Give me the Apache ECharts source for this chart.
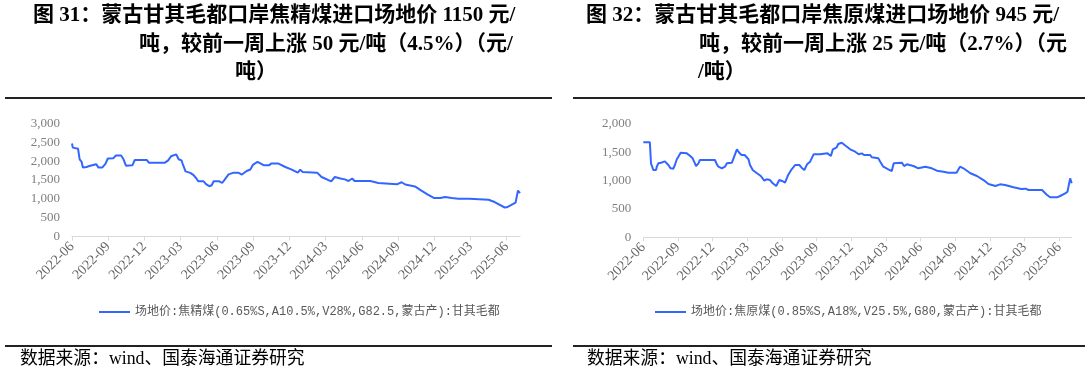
<!DOCTYPE html>
<html><head><meta charset="utf-8">
<script src="https://cdn.jsdelivr.net/npm/echarts@6/dist/echarts.min.js"></script>
<style>html,body{margin:0;padding:0;background:#fff}#c{width:1089px;height:375px}</style>
</head><body><div id="c"></div>
<script>
// ---------- data ----------
const leftDates = ['2022-06-01','2022-06-03','2022-06-16','2022-06-20','2022-06-25','2022-06-28','2022-07-07','2022-07-14','2022-07-17','2022-08-01','2022-08-07','2022-08-16','2022-08-24','2022-08-30','2022-09-14','2022-09-20','2022-10-03','2022-10-09','2022-10-15','2022-11-01','2022-11-07','2022-12-07','2022-12-12','2023-01-22','2023-01-30','2023-02-07','2023-02-11','2023-02-20','2023-02-26','2023-03-03','2023-03-06','2023-03-13','2023-03-25','2023-04-03','2023-04-10','2023-04-15','2023-04-28','2023-05-04','2023-05-12','2023-05-18','2023-05-23','2023-06-07','2023-06-14','2023-06-19','2023-06-30','2023-07-13','2023-07-25','2023-08-03','2023-08-15','2023-08-24','2023-09-01','2023-09-12','2023-09-16','2023-09-28','2023-10-10','2023-10-16','2023-11-04','2023-11-21','2023-12-07','2023-12-22','2023-12-28','2024-01-04','2024-02-10','2024-02-21','2024-03-15','2024-03-24','2024-04-08','2024-04-19','2024-04-28','2024-05-07','2024-05-13','2024-06-22','2024-07-12','2024-08-28','2024-09-10','2024-09-19','2024-10-13','2024-10-28','2024-11-14','2024-12-01','2024-12-16','2024-12-28','2025-01-14','2025-02-01','2025-02-28','2025-04-16','2025-05-01','2025-05-26','2025-06-01','2025-06-23','2025-06-29','2025-07-04'];
const leftValues = [2470,2360,2330,2050,1980,1830,1845,1870,1920,1920,1830,1830,1930,2070,2080,2150,2150,2050,1880,1890,2030,2030,1960,1960,2020,2130,2180,2180,2050,2020,1930,1730,1690,1630,1540,1465,1465,1390,1335,1360,1465,1465,1420,1490,1650,1695,1690,1645,1740,1780,1910,1980,1960,1890,1890,1935,1935,1845,1775,1695,1775,1715,1695,1580,1465,1580,1540,1517,1473,1540,1475,1475,1420,1385,1440,1380,1330,1225,1120,1020,1020,1046,1020,1003,1003,977,915,770,775,900,1220,1150];

const rightDates = ['2022-06-01','2022-06-18','2022-06-21','2022-06-23','2022-06-27','2022-07-04','2022-07-06','2022-07-10','2022-07-17','2022-07-21','2022-07-27','2022-08-06','2022-08-12','2022-08-19','2022-08-23','2022-08-28','2022-09-02','2022-09-08','2022-09-24','2022-10-02','2022-10-09','2022-10-15','2022-10-18','2022-10-24','2022-10-28','2022-11-07','2022-11-11','2022-12-07','2022-12-12','2022-12-16','2022-12-20','2022-12-25','2023-01-03','2023-01-08','2023-01-21','2023-01-25','2023-02-04','2023-02-10','2023-02-16','2023-02-24','2023-03-04','2023-03-08','2023-03-15','2023-03-26','2023-04-06','2023-04-15','2023-04-21','2023-04-30','2023-05-07','2023-05-16','2023-05-24','2023-05-31','2023-06-09','2023-06-17','2023-06-26','2023-07-05','2023-07-16','2023-07-22','2023-07-29','2023-08-06','2023-08-14','2023-08-23','2023-09-10','2023-09-14','2023-09-29','2023-10-08','2023-10-13','2023-10-23','2023-10-27','2023-11-06','2023-11-17','2023-11-28','2023-12-11','2023-12-20','2023-12-28','2024-01-04','2024-01-20','2024-01-24','2024-02-11','2024-02-16','2024-02-24','2024-03-07','2024-03-16','2024-03-21','2024-04-12','2024-04-18','2024-04-25','2024-05-12','2024-05-25','2024-06-13','2024-06-30','2024-07-13','2024-07-30','2024-08-13','2024-09-04','2024-09-13','2024-09-22','2024-10-10','2024-10-27','2024-11-14','2024-11-27','2024-12-15','2024-12-27','2025-01-10','2025-02-02','2025-02-22','2025-03-03','2025-03-11','2025-04-16','2025-04-29','2025-05-07','2025-05-25','2025-06-03','2025-06-16','2025-06-22','2025-06-29','2025-07-03'];
const rightValues = [1677,1677,1306,1294,1188,1188,1246,1306,1317,1352,1340,1276,1218,1212,1276,1377,1423,1493,1482,1440,1394,1306,1258,1306,1364,1364,1377,1364,1288,1246,1258,1218,1246,1306,1317,1352,1553,1493,1452,1452,1377,1276,1188,1130,1082,1000,1023,1011,953,906,1011,994,964,1100,1200,1276,1276,1229,1188,1288,1335,1465,1465,1500,1482,1435,1553,1588,1647,1670,1611,1553,1511,1465,1482,1452,1452,1412,1394,1335,1246,1200,1170,1306,1317,1258,1288,1258,1218,1246,1218,1176,1158,1140,1140,1246,1218,1130,1082,1011,941,906,935,923,882,853,859,835,835,747,706,706,729,776,805,1041,953];

const xTickLabels = ['2022-06','2022-09','2022-12','2023-03','2023-06','2023-09','2023-12','2024-03','2024-06','2024-09','2024-12','2025-03','2025-06'];
const leftYTicks = [0,500,1000,1500,2000,2500,3000];
const rightYTicks = [0,500,1000,1500,2000];

const leftSeriesName = '场地价:焦精煤(0.65%S,A10.5%,V28%,G82.5,蒙古产):甘其毛都';
const rightSeriesName = '场地价:焦原煤(0.85%S,A18%,V25.5%,G80,蒙古产):甘其毛都';
const leftTitleLines = ['图 31：蒙古甘其毛都口岸焦精煤进口场地价 1150 元/','吨，较前一周上涨 50 元/吨（4.5%）（元/','吨）'];
const rightTitleLines = ['图 32：蒙古甘其毛都口岸焦原煤进口场地价 945 元/','吨，较前一周上涨 25 元/吨（2.7%）（元','/吨）'];
const sourceText = '数据来源：wind、国泰海通证券研究';

// ---------- helpers ----------
function toMonth(s){const p=s.split('-').map(Number);return (p[0]-2022)*12+(p[1]-6)+((p[2]||1)-1)/30;}
const tickMonths = xTickLabels.map(l=>toMonth(l));
function labelFor(v){for(let i=0;i<tickMonths.length;i++){if(Math.abs(tickMonths[i]-v)<1e-6)return xTickLabels[i];}return '';}
const leftData = leftDates.map((d,i)=>[toMonth(d),leftValues[i]]);
const rightData = rightDates.map((d,i)=>[toMonth(d),rightValues[i]]);

const serif = "'Liberation Serif','Noto Sans CJK SC',serif";
const blue = '#3366FF';
const axisGray = '#D9D9D9';
const labelGray = '#666666';

function xAxisCfg(grid,maxV){return {type:'value',gridIndex:grid,min:0,max:maxV,
  axisLine:{show:true,lineStyle:{color:axisGray,width:1}},
  axisTick:{show:true,customValues:tickMonths,length:4,lineStyle:{color:axisGray}},
  axisLabel:{customValues:tickMonths,rotate:45,margin:8,fontFamily:serif,fontSize:14,color:labelGray,formatter:labelFor},
  splitLine:{show:false}};}
function yAxisCfg(grid,ticks){return {type:'value',gridIndex:grid,min:ticks[0],max:ticks[ticks.length-1],interval:ticks[1]-ticks[0],
  axisLine:{show:false},axisTick:{show:false},splitLine:{show:false},
  axisLabel:{margin:12,fontFamily:serif,fontSize:13,color:'#7F7F7F',formatter:v=>v.toLocaleString('en-US')}};}

const chart = echarts.init(document.getElementById('c'),null,{renderer:'canvas'});
const titleFont = {fontFamily:serif,fontWeight:'bold',fontSize:21,fill:'#000'};
function tText(txt,x,y){return {type:'text',style:Object.assign({text:txt,x:x,y:y,verticalAlign:'middle',align:'left'},titleFont)};}
function rule(x1,x2,y){return {type:'line',shape:{x1:x1,y1:y,x2:x2,y2:y},style:{stroke:'#222',lineWidth:2}};}
function src(x){return {type:'text',style:{text:sourceText,x:x,y:359,verticalAlign:'middle',fontFamily:serif,fontSize:17.8,fill:'#000'}};}
const legendText = {fontFamily:"'Liberation Mono','Noto Sans CJK SC',monospace",fontSize:12,color:'#595959'};

chart.setOption({
  animation:false,
  backgroundColor:'#fff',
  grid:[{left:72,top:123.5,width:448,height:113,containLabel:false},
        {left:643.3,top:124,width:428.4,height:113.3,containLabel:false}],
  xAxis:[xAxisCfg(0,leftData[leftData.length-1][0]),xAxisCfg(1,rightData[rightData.length-1][0])],
  yAxis:[yAxisCfg(0,leftYTicks),yAxisCfg(1,rightYTicks)],
  legend:[{data:[leftSeriesName],left:94,top:301,icon:'rect',itemWidth:31,itemHeight:2,textStyle:legendText},
          {data:[rightSeriesName],left:650,top:301,icon:'rect',itemWidth:31,itemHeight:2,textStyle:legendText}],
  series:[
    {name:leftSeriesName,type:'line',xAxisIndex:0,yAxisIndex:0,data:leftData,symbol:'none',lineStyle:{color:blue,width:2},itemStyle:{color:blue}},
    {name:rightSeriesName,type:'line',xAxisIndex:1,yAxisIndex:1,data:rightData,symbol:'none',lineStyle:{color:blue,width:2},itemStyle:{color:blue}}
  ],
  graphic:[
    tText(leftTitleLines[0],33,16),
    tText(leftTitleLines[1],139,45),
    tText(leftTitleLines[2],235,73),
    tText(rightTitleLines[0],586,16),
    tText(rightTitleLines[1],699,45),
    tText(rightTitleLines[2],698,73),
    rule(5,552,98), rule(573,1085,98),
    rule(5,552,346), rule(573,1085,346),
    src(20), src(587)
  ]
});
</script></body></html>
